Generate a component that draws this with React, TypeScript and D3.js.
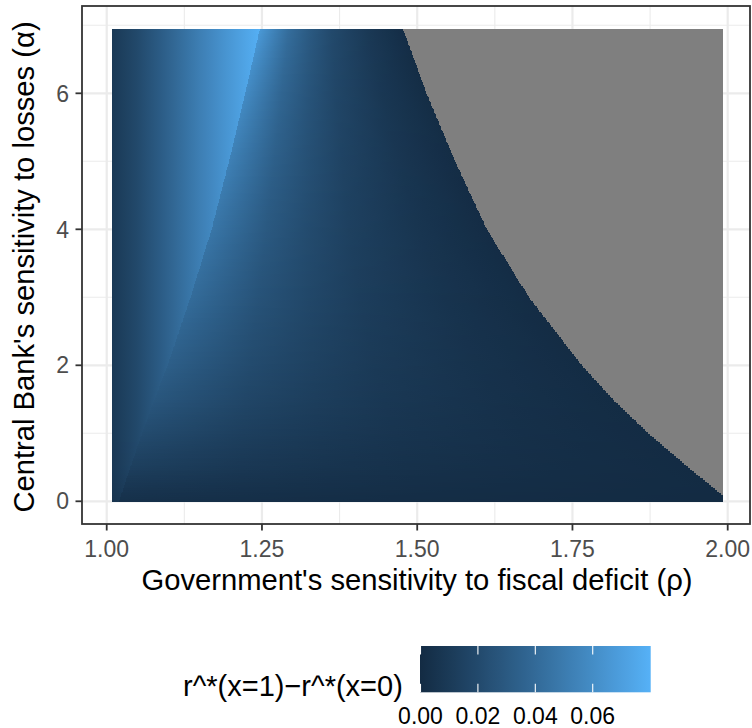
import React from "react";
import * as d3 from "d3";

// ---- axis / legend definitions ----
const xTicks = [1.0, 1.25, 1.5, 1.75, 2.0];
const xMinor = [1.125, 1.375, 1.625, 1.875];
const yTicks = [0, 2, 4, 6];
const yMinor = [1, 3, 5, 7];
const legendTicks = [0, 0.02, 0.04, 0.06];
const fillLimits = [0, 0.0802];
const fillColors = ["#132B43", "#56B1F7"];
const naColor = "#7F7F7F";

// ---- raster extent (grid of rho x alpha) ----
const rhoExtent = [1.009, 1.993];
const alphaExtent = [-0.01, 6.945];

// ---- field features, per alpha ----
const alphaKnots = [0, 0.5, 1, 1.5, 2, 3, 4, 5, 6, 7];
const ridgeRho = [1.02, 1.038, 1.057, 1.077, 1.098, 1.135, 1.169, 1.197, 1.223, 1.248];
const boundaryRho = [2.002, 1.937, 1.872, 1.815, 1.765, 1.68, 1.612, 1.561, 1.515, 1.475];
const rightStart = [0.006, 0.014, 0.021, 0.028, 0.033, 0.041, 0.047, 0.053, 0.059, 0.067];

// value left of the ridge (by rho)
const leftRho = [1.0, 1.05, 1.1, 1.15, 1.2, 1.25];
const leftValue = [0.007, 0.02, 0.036, 0.052, 0.067, 0.08];

// decay right of the ridge, relative position between ridge (0) and NA boundary (1)
const rightT = [0, 0.2, 0.35, 0.5, 0.75, 1];
const rightShape = [1, 0.63, 0.45, 0.3, 0.14, 0.02];

// darkening near alpha = 0
const fadeAlpha = [0, 0.2, 0.5, 1];
const fadeFactor = [0.6, 0.8, 0.95, 1];

const FONT = "'Liberation Sans', Arial, Helvetica, sans-serif";

const lin = (d: number[], r: number[]) =>
  d3.scaleLinear().domain(d).range(r).clamp(true);

export default function App() {
  const W = 752;
  const H = 728;
  const x = d3.scaleLinear().domain([0.9602, 2.0359]).range([82, 750]);
  const y = d3.scaleLinear().domain([-0.334, 7.284]).range([524, 6]);
  const color = d3
    .scaleLinear<string>()
    .domain(fillLimits)
    .range(fillColors)
    .interpolate(d3.interpolateLab)
    .clamp(true);

  const ridgeAt = lin(alphaKnots, ridgeRho);
  const boundAt = lin(alphaKnots, boundaryRho);
  const startAt = lin(alphaKnots, rightStart);
  const leftAt = lin(leftRho, leftValue);
  const shapeAt = lin(rightT, rightShape);
  const fadeAt = lin(fadeAlpha, fadeFactor);

  const x0 = x(rhoExtent[0]);
  const x1 = x(rhoExtent[1]);
  const step = 0.025;
  const nRows = Math.round((alphaExtent[1] - alphaExtent[0]) / step);

  const rows: any[] = [];
  for (let i = 0; i < nRows; i++) {
    const aLo = alphaExtent[0] + i * step;
    const aHi = Math.min(aLo + step, alphaExtent[1]);
    const a = (aLo + aHi) / 2;
    const r = ridgeAt(a);
    const b = boundAt(a);
    const rs = startAt(a);
    const fd = fadeAt(a);
    const off = (rho: number) => (x(rho) - x0) / (x1 - x0);
    const stops: { o: number; c: string }[] = [];
    const rEnd = Math.min(r, rhoExtent[1]);
    for (let p = rhoExtent[0]; p < rEnd; p += 0.02) {
      stops.push({ o: off(p), c: color(leftAt(p) * fd) });
    }
    stops.push({ o: off(rEnd), c: color(leftAt(rEnd) * fd) });
    if (r < rhoExtent[1]) {
      for (let k = 0; k <= 20; k++) {
        const t = k / 20;
        const p = r + t * (b - r);
        if (p > rhoExtent[1]) {
          const tt = (rhoExtent[1] - r) / (b - r);
          stops.push({ o: 1, c: color(rs * shapeAt(tt) * fd) });
          break;
        }
        stops.push({ o: off(p), c: color(rs * shapeAt(t) * fd) });
      }
    }
    rows.push({
      id: `row${i}`,
      yTop: y(aHi),
      yBot: y(aLo),
      stops,
      naX: b < rhoExtent[1] ? x(b) : null,
    });
  }

  const lx = d3.scaleLinear().domain(fillLimits).range([420.5, 650.7]);
  const legendStops = d3.range(0, 21).map((k) => fillLimits[1] * (k / 20));

  return (
    <svg
      width={W}
      height={H}
      viewBox={`0 0 ${W} ${H}`}
      style={{ position: "absolute", left: 0, top: 0, background: "#fff" }}
      fontFamily={FONT}
    >
      <defs>
        {rows.map((row) => (
          <linearGradient
            key={row.id}
            id={row.id}
            gradientUnits="userSpaceOnUse"
            x1={x0}
            x2={x1}
            y1={0}
            y2={0}
          >
            {row.stops.map((s: any, j: number) => (
              <stop key={j} offset={s.o} stopColor={s.c} />
            ))}
          </linearGradient>
        ))}
        <linearGradient id="legendGrad" x1="0" x2="1" y1="0" y2="0">
          {legendStops.map((v, j) => (
            <stop key={j} offset={j / 20} stopColor={color(v)} />
          ))}
        </linearGradient>
      </defs>

      {/* panel background + grid */}
      <rect x={82} y={6} width={668} height={518} fill="#fff" />
      {xMinor.map((v) => (
        <line key={`xm${v}`} x1={x(v)} x2={x(v)} y1={6} y2={524} stroke="#EBEBEB" strokeWidth={1.1} />
      ))}
      {yMinor.map((v) => (
        <line key={`ym${v}`} x1={82} x2={750} y1={y(v)} y2={y(v)} stroke="#EBEBEB" strokeWidth={1.1} />
      ))}
      {xTicks.map((v) => (
        <line key={`xg${v}`} x1={x(v)} x2={x(v)} y1={6} y2={524} stroke="#EBEBEB" strokeWidth={2.2} />
      ))}
      {yTicks.map((v) => (
        <line key={`yg${v}`} x1={82} x2={750} y1={y(v)} y2={y(v)} stroke="#EBEBEB" strokeWidth={2.2} />
      ))}

      {/* raster */}
      <g shapeRendering="crispEdges">
        {rows.map((row) => (
          <g key={row.id}>
            <rect x={x0} y={row.yTop} width={x1 - x0} height={row.yBot - row.yTop} fill={`url(#${row.id})`} />
            {row.naX !== null && (
              <rect x={row.naX} y={row.yTop} width={x1 - row.naX} height={row.yBot - row.yTop} fill={naColor} />
            )}
          </g>
        ))}
      </g>

      {/* panel border */}
      <rect x={82} y={6} width={668} height={518} fill="none" stroke="#333333" strokeWidth={1.8} />

      {/* axes ticks & labels */}
      {xTicks.map((v) => (
        <g key={`xt${v}`}>
          <line x1={x(v)} x2={x(v)} y1={524} y2={530.5} stroke="#333333" strokeWidth={1.8} />
          <text x={x(v)} y={557} textAnchor="middle" fontSize={23} fill="#4D4D4D">
            {v.toFixed(2)}
          </text>
        </g>
      ))}
      {yTicks.map((v) => (
        <g key={`yt${v}`}>
          <line x1={75.5} x2={82} y1={y(v)} y2={y(v)} stroke="#333333" strokeWidth={1.8} />
          <text x={69} y={y(v) + 8.2} textAnchor="end" fontSize={23} fill="#4D4D4D">
            {v}
          </text>
        </g>
      ))}

      <text x={417} y={590} textAnchor="middle" fontSize={29.2} fill="#000">
        Government's sensitivity to fiscal deficit (ρ)
      </text>
      <text
        transform={`translate(33.6, 267) rotate(-90)`}
        textAnchor="middle"
        fontSize={29.2}
        fill="#000"
      >
        Central Bank's sensitivity to losses (α)
      </text>

      {/* legend */}
      <text x={183} y={696} fontSize={29} fill="#000">
        r^*(x=1)−r^*(x=0)
      </text>
      <rect x={420} y={646} width={230.7} height={46.3} fill="url(#legendGrad)" />
      {legendTicks.map((v) => (
        <g key={`lt${v}`}>
          <line x1={lx(v)} x2={lx(v)} y1={646} y2={654.5} stroke="#fff" strokeWidth={1.1} />
          <line x1={lx(v)} x2={lx(v)} y1={683.8} y2={692.3} stroke="#fff" strokeWidth={1.1} />
          <text x={lx(v)} y={724} textAnchor="middle" fontSize={23} fill="#000">
            {v.toFixed(2)}
          </text>
        </g>
      ))}
    </svg>
  );
}
